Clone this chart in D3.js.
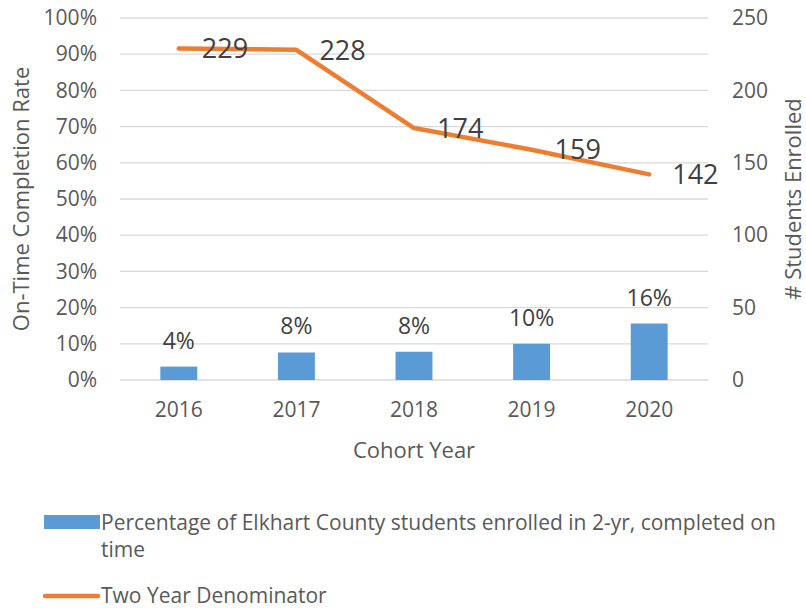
<!DOCTYPE html>
<html>
<head>
<meta charset="utf-8">
<script src="https://cdn.jsdelivr.net/npm/d3@7"></script>
<style>
  body { margin: 0; background: #fff; }
  text { font-family: "Open Sans", "Noto Sans", sans-serif; }
</style>
</head>
<body>
<div id="chart"></div>
<script>
const years = ['2016', '2017', '2018', '2019', '2020'];
const completionRate = [0.037, 0.076, 0.078, 0.100, 0.156];
const denominator = [229, 228, 174, 159, 142];
const leftTicks = [0, 0.1, 0.2, 0.3, 0.4, 0.5, 0.6, 0.7, 0.8, 0.9, 1.0];
const rightTicks = [0, 50, 100, 150, 200, 250];
const barLegend = ['Percentage of Elkhart County students enrolled in 2-yr, completed on', 'time'];
const lineLegend = 'Two Year Denominator';

const W = 806, H = 608;
const margin = {top: 18, right: 98, bottom: 228, left: 120};
const width = W - margin.left - margin.right,
    height = H - margin.top - margin.bottom;

const svg = d3.select('#chart')
    .append('svg')
    .attr('width', W)
    .attr('height', H);

const g = svg.append('g')
    .attr('transform', `translate(${margin.left}, ${margin.top})`);

const xScale = d3.scaleBand()
    .domain(years)
    .range([0, width])
    .paddingInner(0.686)
    .paddingOuter(0.343);

const band = d3.scaleBand().domain(years).range([0, width]);

const yLeft = d3.scaleLinear().domain([0, 1]).range([height, 0]);
const yRight = d3.scaleLinear().domain([0, 250]).range([height, 0]);

// gridlines
g.append('g')
    .selectAll('line')
    .data(leftTicks)
    .enter().append('line')
    .attr('x1', 0)
    .attr('x2', width)
    .attr('y1', d => yLeft(d))
    .attr('y2', d => yLeft(d))
    .attr('stroke', '#d9d9d9')
    .attr('stroke-width', 1.3);

// left axis
const leftAxis = g.append('g')
    .call(d3.axisLeft(yLeft).tickValues(leftTicks).tickFormat(d3.format('.0%')).tickSize(0).tickPadding(23));
leftAxis.select('.domain').remove();
leftAxis.selectAll('text')
    .attr('fill', '#595959')
    .style('font-size', '21px');

// right axis
const rightAxis = g.append('g')
    .attr('transform', `translate(${width}, 0)`)
    .call(d3.axisRight(yRight).tickValues(rightTicks).tickSize(0).tickPadding(24));
rightAxis.select('.domain').remove();
rightAxis.selectAll('text')
    .attr('fill', '#595959')
    .style('font-size', '21px');

// x axis
const xAxis = g.append('g')
    .attr('transform', `translate(0, ${height})`)
    .call(d3.axisBottom(band).tickSize(0).tickPadding(22));
xAxis.select('.domain').remove();
xAxis.selectAll('text')
    .attr('fill', '#595959')
    .style('font-size', '21px');

// bars
g.selectAll('.bar')
    .data(years)
    .enter().append('rect')
    .attr('class', 'bar')
    .attr('x', d => xScale(d))
    .attr('width', xScale.bandwidth())
    .attr('y', (d, i) => yLeft(completionRate[i]))
    .attr('height', (d, i) => height - yLeft(completionRate[i]))
    .attr('fill', '#5b9bd5');

g.selectAll('.bar-label')
    .data(years)
    .enter().append('text')
    .attr('class', 'bar-label')
    .attr('x', d => band(d) + band.bandwidth() / 2)
    .attr('y', (d, i) => yLeft(completionRate[i]) - 18)
    .attr('text-anchor', 'middle')
    .attr('fill', '#404040')
    .style('font-size', '23px')
    .text((d, i) => d3.format('.0%')(completionRate[i]));

// line
const line = d3.line()
    .x(d => band(d[0]) + band.bandwidth() / 2)
    .y(d => yRight(d[1]));

const pts = years.map((y, i) => [y, denominator[i]]);

g.append('path')
    .datum(pts)
    .attr('d', line)
    .attr('fill', 'none')
    .attr('stroke', '#ed7d31')
    .attr('stroke-width', 4.5)
    .attr('stroke-linecap', 'round')
    .attr('stroke-linejoin', 'round');

g.selectAll('.line-label')
    .data(pts)
    .enter().append('text')
    .attr('class', 'line-label')
    .attr('x', d => band(d[0]) + band.bandwidth() / 2 + 23)
    .attr('y', d => yRight(d[1]))
    .attr('dy', '0.36em')
    .attr('fill', '#404040')
    .style('font-size', '27px')
    .text(d => d[1]);

// axis titles
svg.append('text')
    .attr('transform', `translate(29, ${margin.top + height / 2}) rotate(-90)`)
    .attr('text-anchor', 'middle')
    .attr('fill', '#595959')
    .style('font-size', '22px')
    .text('On-Time Completion Rate');

svg.append('text')
    .attr('transform', `translate(801, ${margin.top + height / 2}) rotate(-90)`)
    .attr('text-anchor', 'middle')
    .attr('fill', '#595959')
    .style('font-size', '22px')
    .text('# Students Enrolled');

svg.append('text')
    .attr('x', margin.left + width / 2)
    .attr('y', 458)
    .attr('text-anchor', 'middle')
    .attr('fill', '#595959')
    .style('font-size', '22px')
    .text('Cohort Year');

// legend
const legend = svg.append('g');
legend.append('rect')
    .attr('x', 44)
    .attr('y', 515)
    .attr('width', 56)
    .attr('height', 14)
    .attr('fill', '#5b9bd5');
legend.selectAll('.leg-bar-text')
    .data(barLegend)
    .enter().append('text')
    .attr('x', 101)
    .attr('y', (d, i) => 530 + i * 27)
    .attr('fill', '#595959')
    .style('font-size', '21px')
    .text(d => d);

legend.append('line')
    .attr('x1', 45)
    .attr('x2', 98)
    .attr('y1', 596)
    .attr('y2', 596)
    .attr('stroke', '#ed7d31')
    .attr('stroke-width', 4.5)
    .attr('stroke-linecap', 'round');
legend.append('text')
    .attr('x', 101)
    .attr('y', 603)
    .attr('fill', '#595959')
    .style('font-size', '21px')
    .text(lineLegend);
</script>
</body>
</html>
